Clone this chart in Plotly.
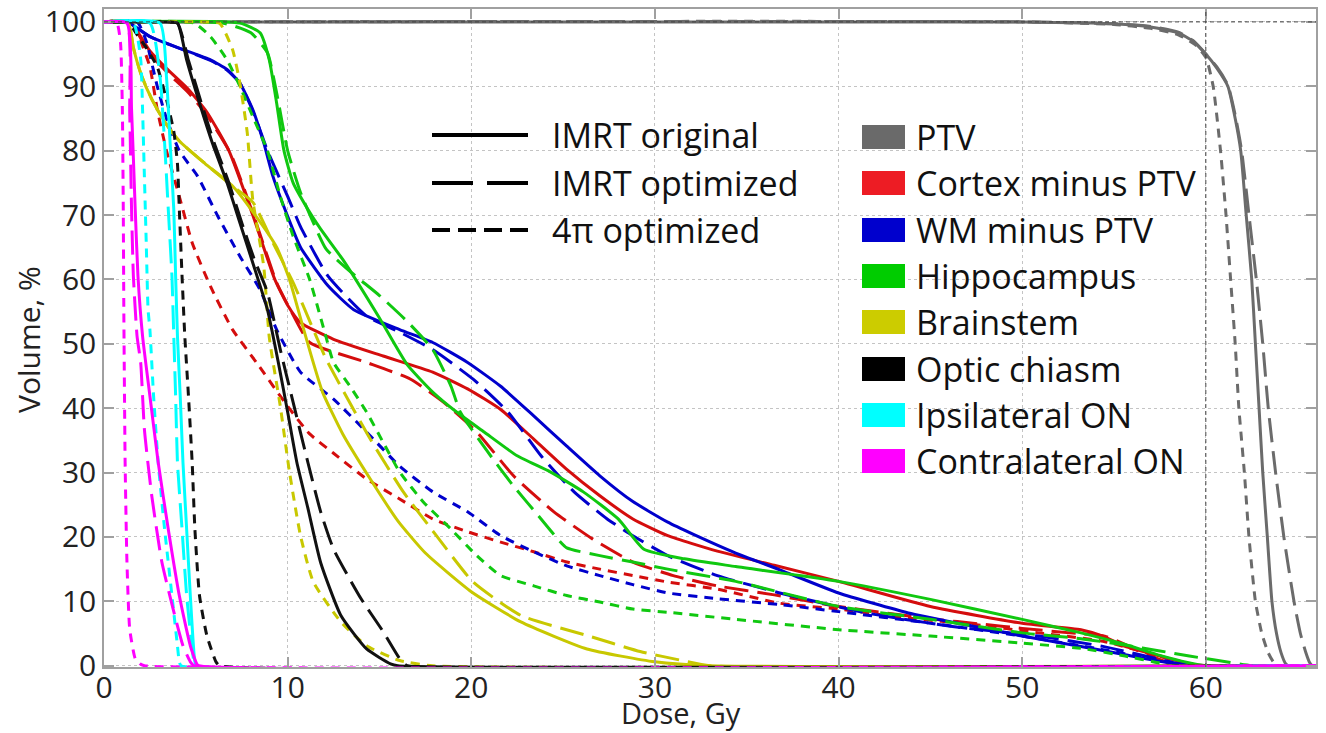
import plotly.graph_objects as go

# ---------------- data (dose in Gy, volume in %) ----------------
ptv_orig_dose = [0, 50, 55, 57, 58.5, 59.3, 60, 60.6, 61.2, 61.6, 61.9, 62.2, 62.5, 62.7, 62.9, 63.1, 63.35, 63.6, 63.85, 64.1, 64.35, 64.5, 66]
ptv_orig_vol = [100, 100, 99.7, 99.2, 98.3, 97, 95, 92.8, 90, 85, 80, 70, 60, 50, 40, 30, 20, 10, 5, 2, 0.3, 0, 0]
ptv_imrt_dose = [0, 50, 55, 57, 58.5, 59.3, 60, 60.6, 61.2, 61.6, 61.95, 62.35, 62.75, 63.1, 63.4, 63.8, 64.25, 64.8, 65.15, 65.45, 65.65, 65.8, 66]
ptv_imrt_vol = [100, 100, 99.7, 99.3, 98.4, 97.1, 95, 93, 90.2, 85.5, 80, 70, 60, 50, 40, 30, 20, 10, 5, 2, 0.5, 0, 0]
ptv_4pi_dose = [0, 50, 55, 57, 58.5, 59.4, 60, 60.4, 60.8, 61.1, 61.35, 61.6, 61.8, 62.1, 62.35, 62.7, 63.05, 63.4, 63.7, 63.9, 66]
ptv_4pi_vol = [100, 100, 99.6, 99, 98, 96.5, 94.5, 90, 80, 70, 60, 50, 40, 30, 20, 10, 5, 2, 0.5, 0, 0]

cortex_orig_dose = [0, 1.4, 2.5, 3.5, 4.6, 5.6, 6.8, 8.1, 9.3, 10.0, 10.7, 12.5, 15.2, 17.9, 19.8, 21.6, 23.4, 25.2, 27.0, 28.8, 30.7, 33.4, 36.5, 40, 45, 50, 53.2, 54.4, 55.6, 57.5, 59.1, 60, 66]
cortex_orig_vol = [100, 100, 95.5, 92.5, 89.5, 86, 80, 70, 60, 56, 53.3, 50.7, 48.1, 45.6, 43, 39.8, 35.2, 30.5, 26.4, 22.8, 20.2, 17.8, 15.6, 13.1, 9.2, 6.6, 5.6, 4.6, 3.0, 1.5, 0.3, 0, 0]
cortex_imrt_dose = [0, 1.4, 2.5, 3.5, 4.6, 5.6, 6.9, 8.2, 9.4, 10.2, 11.2, 14.3, 16.7, 18.5, 20.3, 22.3, 24.5, 26.6, 28.8, 31, 33.4, 36.5, 40, 45, 48, 50, 53, 54.5, 55.6, 57, 58.5, 66]
cortex_imrt_vol = [100, 100, 95, 92, 89, 85.5, 79.5, 69.5, 59.5, 55, 50.2, 47.1, 44.5, 40.9, 36.3, 29.5, 23.9, 19.7, 16.1, 14, 12.4, 11, 9.2, 7.3, 6.4, 5.8, 5, 4.6, 3.3, 1.5, 0, 0]
cortex_4pi_dose = [0, 1.5, 2.0, 2.5, 2.9, 3.4, 4.1, 4.8, 5.8, 7.0, 8.3, 10, 11.2, 12.5, 14.3, 16.1, 17.9, 19.8, 21.6, 23.4, 25.2, 27, 28.8, 30.7, 33.4, 36.8, 40, 43.8, 47.4, 50.9, 54.4, 56.8, 58.4, 59.3, 66]
cortex_4pi_vol = [100, 100, 97, 93, 86.4, 80, 72.9, 65.7, 58.9, 52.2, 47.1, 40.3, 36, 33, 29, 25.9, 22.8, 20.8, 19.2, 17.7, 16.1, 15, 14, 13, 11.9, 9.7, 8.8, 7.4, 6.4, 5.1, 3.8, 2, 0.7, 0, 0]

wm_orig_dose = [0, 1.25, 2.5, 4.3, 5.8, 6.7, 7.4, 8.1, 8.7, 9.2, 10, 10.7, 12.2, 13.6, 16.1, 17.9, 19.8, 21.6, 23.4, 25.2, 27, 28.8, 30.7, 32.1, 34.4, 36.8, 40, 43.8, 47.4, 50, 53.2, 55.6, 57.9, 59.6, 66]
wm_orig_vol = [100, 100, 97.7, 95.7, 94.1, 92.6, 90.5, 86.4, 81.2, 76, 69.8, 65, 59, 55.3, 52.2, 50.2, 47.1, 43.4, 38.8, 34.1, 29.5, 25.5, 22.3, 20.4, 17.5, 14.9, 11.3, 8.2, 6.1, 4.6, 3, 1.7, 0.5, 0, 0]
wm_imrt_dose = [0, 1.25, 2.5, 4.3, 5.8, 6.7, 7.4, 8.2, 8.9, 10, 10.7, 12.2, 14.3, 16.1, 17.9, 20.1, 22, 23.8, 25.6, 27.4, 28.8, 30.7, 33.4, 36.8, 41.5, 46.2, 50.9, 54.4, 57.9, 59.1, 66]
wm_imrt_vol = [100, 100, 97.7, 95.7, 94, 92.5, 90.5, 85.5, 80, 72.9, 68.2, 60.5, 54.3, 51.8, 49.1, 44.5, 39.4, 32.6, 27, 22.8, 20.2, 17.1, 14, 11.3, 8.2, 6.1, 4.6, 3, 0.7, 0, 0]
wm_4pi_dose = [0, 1.8, 2.3, 2.9, 3.4, 4.1, 5.1, 6.2, 7.4, 8.5, 9.4, 10.7, 12.5, 14.3, 16.1, 17.9, 19.8, 21.6, 23.4, 25.2, 27, 28.8, 30.7, 33.4, 36.8, 40, 45, 50, 54.4, 56.8, 58.6, 59.5, 66]
wm_4pi_vol = [100, 100, 97, 90, 85, 80, 76, 69.8, 63.6, 58.4, 52.2, 45.6, 41.4, 36.3, 31, 27, 23.9, 20.2, 17.7, 15.5, 14, 12.6, 11.3, 10.4, 9.5, 8.4, 6.6, 4.6, 2.5, 1.2, 0.3, 0, 0]

hippo_orig_dose = [0, 7.4, 8.5, 9.0, 9.4, 9.8, 10.3, 11.1, 11.8, 13.0, 15.0, 16.5, 17.9, 19.2, 20.7, 22.5, 24.3, 26.1, 28, 29.4, 31.6, 34.4, 40, 45, 50, 53.2, 55.6, 57.5, 59, 60, 66]
hippo_orig_vol = [100, 99.8, 98.3, 94.1, 87.4, 80, 75, 70.9, 67.8, 63.1, 54, 46.8, 42.5, 39.4, 36.3, 32.6, 30.1, 27, 22.8, 18.1, 16.6, 15.4, 13.1, 10.3, 7.2, 5.1, 3.3, 1.6, 0.5, 0, 0]
hippo_imrt_dose = [0, 6.5, 8.0, 8.9, 9.4, 10, 10.7, 11.4, 12.1, 13.5, 15.0, 16.5, 17.9, 18.9, 19.4, 20.9, 22.3, 23.8, 24.7, 25.2, 27, 28.8, 30.7, 34.4, 40, 45, 50, 53.2, 55.6, 57.5, 59.1, 60.5, 62.5, 66]
hippo_imrt_vol = [100, 99.8, 98.3, 95.2, 89, 80, 73.5, 68.8, 64.7, 61, 57.5, 53.5, 49.1, 43.4, 39.4, 33.2, 27.9, 22.8, 19.7, 18.3, 17.1, 16.1, 15, 13.1, 9.2, 7.2, 5.1, 4.2, 3.2, 2.3, 1.5, 0.9, 0, 0]
hippo_4pi_dose = [0, 4.9, 5.8, 6.7, 7.4, 8.1, 8.9, 9.6, 10.3, 11.2, 12.0, 12.5, 13.4, 14.3, 15.2, 16.1, 17.4, 18.9, 20.3, 21.6, 23.4, 25.2, 27, 28.8, 30.7, 34.4, 40, 45, 50, 53.2, 55.6, 57.5, 58, 66]
hippo_4pi_vol = [100, 99.8, 97.7, 94.1, 90, 85.3, 80, 72.9, 66.7, 60, 52, 47.1, 43.4, 39.4, 34.7, 30.1, 25.4, 21.2, 17.1, 14, 12.4, 10.9, 9.9, 8.8, 8.3, 7.2, 5.6, 4.6, 3.5, 2.7, 1.5, 0.4, 0, 0]

bs_orig_dose = [0, 1.3, 1.6, 2.0, 2.6, 3.3, 4.1, 5.5, 7.0, 8.1, 9.4, 10.1, 10.7, 11.3, 11.9, 13.0, 14.5, 16.0, 17.5, 20, 22.7, 26.3, 30, 33, 66]
bs_orig_vol = [100, 100, 96, 92, 88, 84.5, 81.5, 78, 74.5, 70.5, 65, 60, 54, 48, 42.5, 36, 29, 22.5, 17.5, 11.5, 6.8, 2.6, 0.6, 0, 0]
bs_imrt_dose = [0, 1.3, 1.6, 2.0, 2.6, 3.3, 4.1, 5.5, 7.0, 8.1, 9.2, 10.3, 11.4, 12.1, 14.5, 16.3, 18.1, 20.1, 22.7, 26.3, 29.2, 31.5, 33, 66]
bs_imrt_vol = [100, 100, 96, 92, 88, 84.5, 81.5, 78, 74.5, 72, 65.7, 59.5, 52.2, 47.6, 35.2, 27, 20.2, 13, 7.8, 4.7, 2.2, 0.8, 0, 0]
bs_4pi_dose = [0, 5.5, 6.3, 7.0, 7.4, 7.8, 8.1, 8.7, 9.0, 9.6, 10.1, 10.7, 11.4, 12.9, 14.3, 16.1, 17.9, 66]
bs_4pi_vol = [100, 100, 99.8, 95.7, 90.5, 82.8, 72.4, 62, 51, 40.3, 30.1, 20.2, 13, 6.8, 3.1, 0.8, 0, 0]

oc_orig_dose = [0, 3.2, 4.0, 4.5, 5.2, 5.9, 6.7, 7.4, 8.1, 8.9, 9.5, 10.0, 10.5, 11.1, 11.8, 12.9, 14.3, 15.6, 16, 66]
oc_orig_vol = [100, 100, 99.8, 94.1, 87.4, 81.2, 75, 68.8, 62.6, 55.3, 47, 39.4, 31.6, 24.5, 16, 7.8, 2.6, 0.3, 0, 0]
oc_imrt_dose = [0, 3.2, 4.0, 4.6, 5.3, 6.0, 6.8, 7.5, 8.2, 8.9, 9.6, 10.3, 11.1, 11.8, 12.5, 14, 15.2, 16.1, 16.5, 66]
oc_imrt_vol = [100, 100, 99.8, 94, 87.4, 81.2, 75, 68.8, 63, 58, 49.1, 40.9, 31.6, 23.9, 18.1, 10.4, 5.3, 1.1, 0, 0]
oc_4pi_dose = [0, 1.3, 1.8, 2.3, 2.9, 3.4, 3.8, 4.0, 4.1, 4.25, 4.4, 4.6, 4.8, 4.95, 5.2, 5.6, 6.1, 6.3, 66]
oc_4pi_vol = [100, 100, 98, 96, 93, 88, 83, 78, 71, 60.5, 51.2, 41.9, 31.6, 21.2, 10.9, 4.7, 0.6, 0, 0]

ipsi_orig_dose = [0, 3.05, 3.4, 3.6, 3.8, 3.9, 4.0, 4.15, 4.3, 4.5, 4.7, 4.95, 5.05, 66]
ipsi_orig_vol = [100, 99.8, 91.5, 81.2, 70.9, 60.5, 51.2, 41.9, 31.6, 21.2, 10.9, 0.6, 0, 0]
ipsi_imrt_dose = [0, 2.5, 3.05, 3.3, 3.5, 3.7, 3.8, 3.9, 4.0, 4.25, 4.5, 4.9, 5.0, 66]
ipsi_imrt_vol = [100, 99.8, 91.5, 81.2, 70.9, 60.5, 51.2, 41.9, 31.6, 21.2, 10.9, 0.6, 0, 0]
ipsi_4pi_dose = [0, 1.6, 2.0, 2.1, 2.2, 2.3, 2.4, 2.5, 2.7, 2.95, 3.3, 3.7, 4.0, 4.1, 4.2, 66]
ipsi_4pi_vol = [100, 99.8, 94.1, 86.4, 76, 65.7, 55.3, 52.2, 41.9, 31.6, 21.2, 10.9, 3.1, 0.6, 0, 0]

contra_orig_dose = [0, 1.25, 1.5, 1.7, 1.85, 2.1, 2.5, 2.95, 3.5, 4.1, 4.7, 5.05, 5.15, 66]
contra_orig_vol = [100, 99.8, 86.4, 70.9, 60.5, 51.2, 41.9, 31.6, 21.2, 10.9, 3.1, 0.3, 0, 0]
contra_imrt_dose = [0, 1.25, 1.4, 1.5, 1.6, 1.8, 2.0, 2.2, 2.6, 3.15, 3.8, 4.3, 4.7, 4.9, 66]
contra_imrt_vol = [100, 99.8, 86, 70.9, 60.5, 51.2, 47, 36.7, 26.4, 16.1, 8.4, 3.1, 0.6, 0, 0]
contra_4pi_dose = [0, 0.7, 0.9, 1.0, 1.05, 1.08, 1.15, 1.25, 1.4, 1.7, 1.96, 2.2, 66]
contra_4pi_vol = [100, 99.8, 96.7, 86.4, 70.9, 55, 31.6, 16.1, 5.7, 1.1, 0.3, 0, 0]

structures = ["PTV", "Cortex minus PTV", "WM minus PTV", "Hippocampus", "Brainstem",
              "Optic chiasm", "Ipsilateral ON", "Contralateral ON"]
line_colors = ["#6b6b6b", "#d40d0d", "#0000cc", "#10c810", "#c8c800", "#111111", "#00ffff", "#ff00ff"]
patch_colors = ["#6a6a6a", "#ed1c24", "#0000cd", "#00cc00", "#cccc00", "#000000", "#00ffff", "#ff00ff"]
plans = ["IMRT original", "IMRT optimized", "4\u03c0 optimized"]
curve_dash = ["solid", "24px,9px", "9px,7px"]
legend_dash = ["solid", "41px,14px", "18px,8px"]

curves = [
    [(ptv_orig_dose, ptv_orig_vol), (ptv_imrt_dose, ptv_imrt_vol), (ptv_4pi_dose, ptv_4pi_vol)],
    [(cortex_orig_dose, cortex_orig_vol), (cortex_imrt_dose, cortex_imrt_vol), (cortex_4pi_dose, cortex_4pi_vol)],
    [(wm_orig_dose, wm_orig_vol), (wm_imrt_dose, wm_imrt_vol), (wm_4pi_dose, wm_4pi_vol)],
    [(hippo_orig_dose, hippo_orig_vol), (hippo_imrt_dose, hippo_imrt_vol), (hippo_4pi_dose, hippo_4pi_vol)],
    [(bs_orig_dose, bs_orig_vol), (bs_imrt_dose, bs_imrt_vol), (bs_4pi_dose, bs_4pi_vol)],
    [(oc_orig_dose, oc_orig_vol), (oc_imrt_dose, oc_imrt_vol), (oc_4pi_dose, oc_4pi_vol)],
    [(ipsi_orig_dose, ipsi_orig_vol), (ipsi_imrt_dose, ipsi_imrt_vol), (ipsi_4pi_dose, ipsi_4pi_vol)],
    [(contra_orig_dose, contra_orig_vol), (contra_imrt_dose, contra_imrt_vol), (contra_4pi_dose, contra_4pi_vol)],
]

x_ticks = [0, 10, 20, 30, 40, 50, 60]
y_ticks = [0, 10, 20, 30, 40, 50, 60, 70, 80, 90, 100]

# ---------------- figure ----------------
W, H = 1326, 733
ML, MR, MT, MB = 104, 10, 9, 66
PW, PH = W - ML - MR, H - MT - MB

def pxx(x):
    return (x - ML) / PW

def pxy(y):
    return (H - MB - y) / PH

fig = go.Figure()
for s, name in enumerate(structures):
    for p in range(3):
        d, v = curves[s][p]
        fig.add_trace(go.Scatter(
            x=d, y=v, mode="lines", name=f"{name} - {plans[p]}",
            line=dict(color=line_colors[s], width=3, dash=curve_dash[p], shape="spline", smoothing=0.5),
            showlegend=False, hoverinfo="skip"))

FONT = "Open Sans, Arial, sans-serif"
shapes = []
annotations = []

# reference lines
shapes.append(dict(type="line", xref="x", yref="y", x0=0, x1=66, y0=100, y1=100,
                   line=dict(color="#444", width=1, dash="4px,3px"), layer="above"))
shapes.append(dict(type="line", xref="x", yref="paper", x0=60, x1=60, y0=0, y1=1,
                   line=dict(color="#444", width=1, dash="4px,3px"), layer="above"))

# legend: plan line styles
leg_rows_left = [135, 183, 230]
for p in range(3):
    y = pxy(leg_rows_left[p])
    shapes.append(dict(type="line", xref="paper", yref="paper", x0=pxx(432), x1=pxx(528), y0=y, y1=y,
                       line=dict(color="#000", width=4, dash=legend_dash[p]), layer="above"))
    annotations.append(dict(xref="paper", yref="paper", x=pxx(550), y=y, text=plans[p], showarrow=False,
                            xanchor="left", yanchor="middle", font=dict(family=FONT, size=34, color="#111")))

# legend: structure colours
leg_rows_right = [137, 183, 230, 276, 322, 369, 415, 461]
for s, name in enumerate(structures):
    yc = leg_rows_right[s]
    shapes.append(dict(type="rect", xref="paper", yref="paper", x0=pxx(862), x1=pxx(905),
                       y0=pxy(yc + 12), y1=pxy(yc - 12), fillcolor=patch_colors[s],
                       line=dict(width=0), layer="above"))
    annotations.append(dict(xref="paper", yref="paper", x=pxx(914), y=pxy(yc), text=name, showarrow=False,
                            xanchor="left", yanchor="middle", font=dict(family=FONT, size=34, color="#111")))

# axis titles
annotations.append(dict(xref="paper", yref="paper", x=pxx(681), y=pxy(712), text="Dose, Gy", showarrow=False,
                        xanchor="center", yanchor="middle", borderpad=0,
                        font=dict(family=FONT, size=29, color="#222")))
annotations.append(dict(xref="paper", yref="paper", x=pxx(28), y=pxy(340), text="Volume, %", showarrow=False,
                        textangle=-90, xanchor="center", yanchor="middle",
                        font=dict(family=FONT, size=30, color="#222")))

axis_common = dict(
    showline=True, linecolor="#a0a0a0", linewidth=1.5, mirror="ticks",
    ticks="inside", ticklen=10, tickcolor="#a0a0a0", tickwidth=1.5,
    showgrid=True, gridcolor="#c4c4c4", griddash="dot", gridwidth=1,
    zeroline=False, automargin=False,
    tickfont=dict(family=FONT, size=30, color="#222"),
)

fig.update_layout(
    width=W, height=H,
    margin=dict(l=ML, r=MR, t=MT, b=MB, autoexpand=False),
    paper_bgcolor="white", plot_bgcolor="white",
    showlegend=False,
    font=dict(family=FONT, color="#222"),
    xaxis=dict(range=[0, 66], tickvals=x_ticks, ticktext=[str(t) for t in x_ticks],
               ticklabelstandoff=-7, **axis_common),
    yaxis=dict(range=[-0.2, 102], tickvals=y_ticks, ticktext=[str(t) for t in y_ticks], **axis_common),
    shapes=shapes,
    annotations=annotations,
)

fig.write_html("out.html")
